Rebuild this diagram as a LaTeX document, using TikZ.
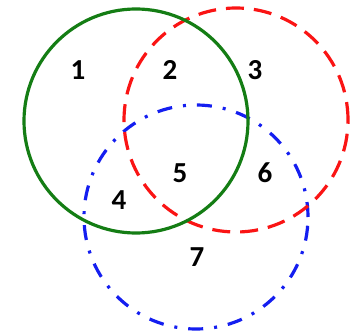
\documentclass[tikz,border=0pt]{standalone}
\usepackage{fontspec}
\setmainfont{Carlito}
\usepackage{xcolor}
\usetikzlibrary{positioning}
\definecolor{setgreen}{RGB}{20,125,20}
\definecolor{setred}{RGB}{250,20,20}
\definecolor{setblue}{RGB}{20,30,240}

\begin{document}
\begin{tikzpicture}[
  x=1pt, y=-1pt,
  every node/.style={font=\fontsize{29}{34}\selectfont\bfseries},
  setcircle/.style={circle, line width=3.2pt, minimum size=224pt, inner sep=0pt},
  region/.style={inner sep=0pt}
]
\useasboundingbox (0,0) rectangle (358,331);
% the three sets
\node[setcircle, draw=setblue,
      dash pattern=on 15pt off 11pt on 3pt off 11pt] (setC) at (196,217) {};
\node[setcircle, draw=setred,
      dash pattern=on 18pt off 10pt]                 (setB) at (236,120) {};
\node[setcircle, draw=setgreen]                      (setA) at (136,121) {};
% region labels
\node[region] (r1) at (78,70)   {1};
\node[region] (r2) at (170,70)  {2};
\node[region] (r3) at (255,70)  {3};
\node[region] (r4) at (119,200) {4};
\node[region] (r5) at (180,173) {5};
\node[region] (r6) at (265,173) {6};
\node[region] (r7) at (197,257) {7};
\end{tikzpicture}
\end{document}
